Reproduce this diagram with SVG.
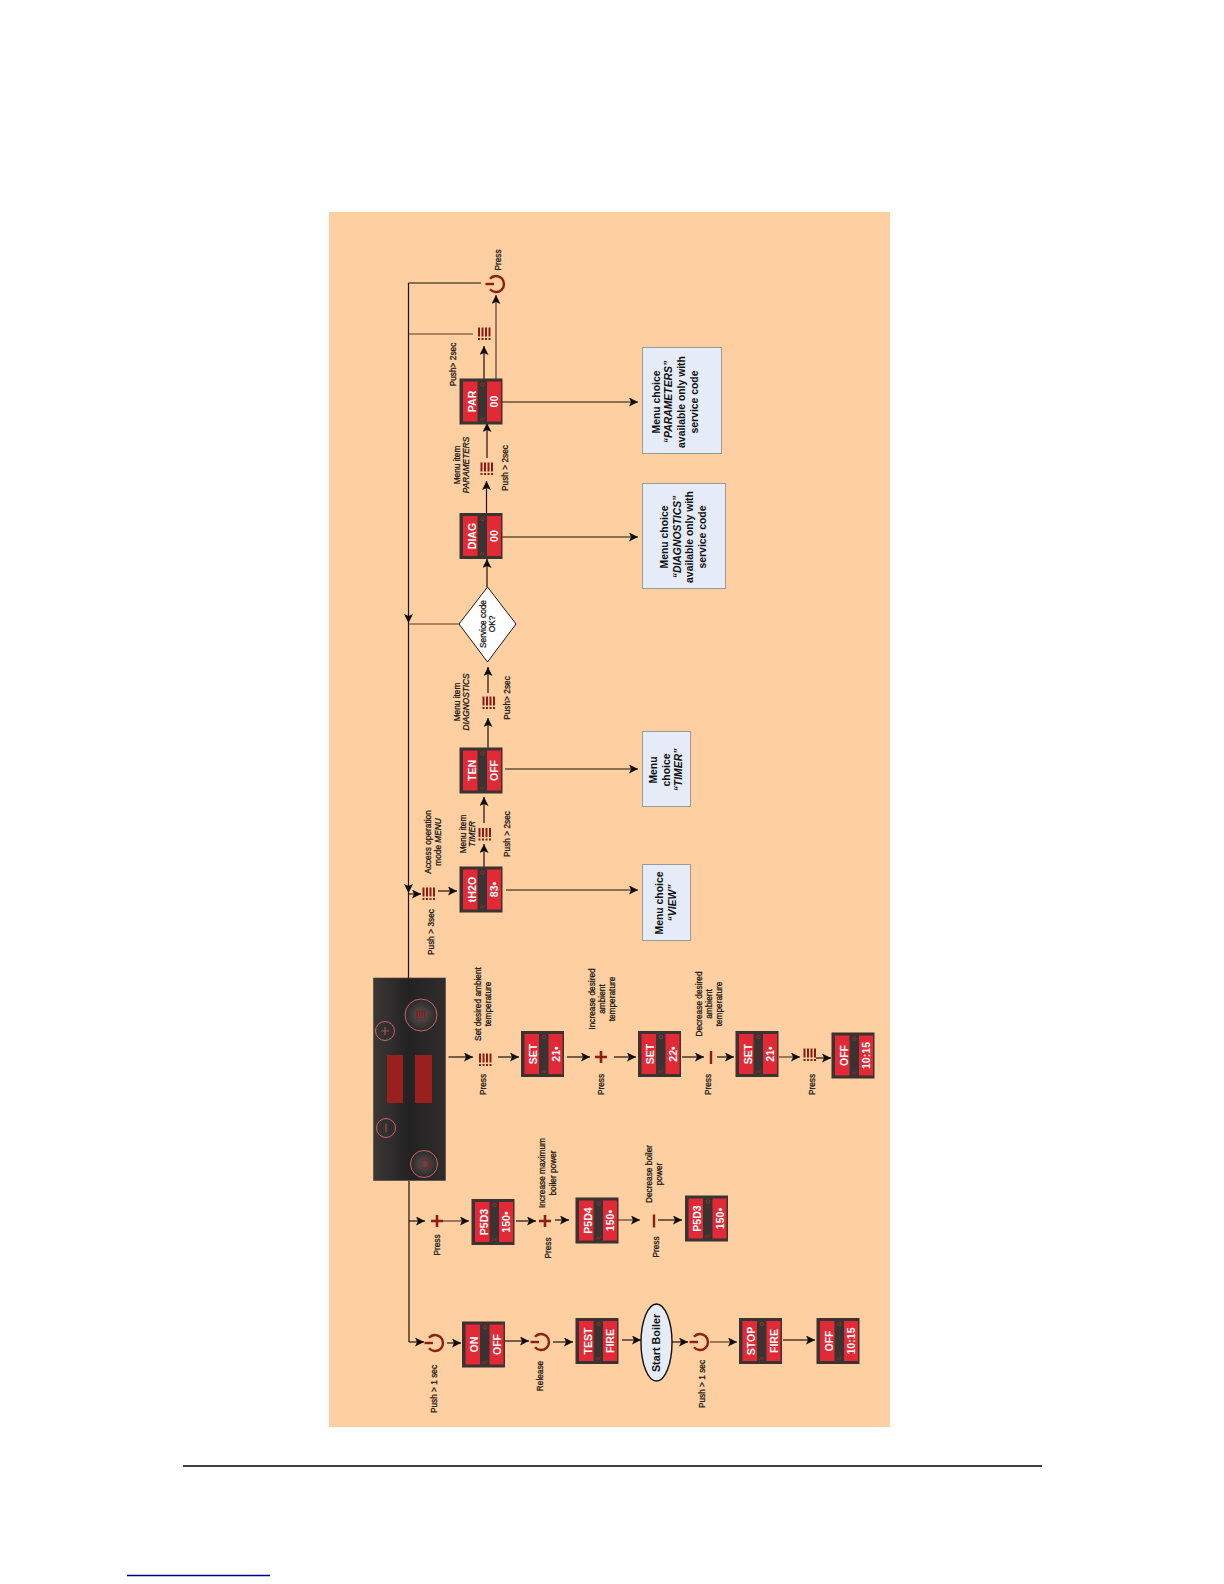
<svg xmlns="http://www.w3.org/2000/svg" width="1224" height="1584" viewBox="0 0 1224 1584">
<style>
text{font-family:"Liberation Sans",Arial,sans-serif;text-anchor:middle;dominant-baseline:central;fill:#111}
.l{font-size:8.3px;stroke:#111;stroke-width:.25px}
.b{font-size:10.4px;font-weight:700}
.d{font-size:10.6px;font-weight:700;fill:#fff}
.i{font-style:italic}
.c line,.c path{fill:none;stroke:#1a1208;stroke-width:1.2}
.c .a{marker-end:url(#ah)}
.c .br{stroke:#5c3d20}
.box{fill:#e6ecf7;stroke:#9a9a96;stroke-width:1}
.pan{fill:none;stroke:#d0606a;stroke-width:1}
</style>
<defs>
<linearGradient id="pg" x1="0" y1="0" x2="1" y2="0"><stop offset="0" stop-color="#3a3736"/><stop offset=".5" stop-color="#232223"/><stop offset="1" stop-color="#302d2c"/></linearGradient>
<radialGradient id="kn"><stop offset="0" stop-color="#5a5453"/><stop offset="1" stop-color="#2a2829"/></radialGradient>
<marker id="ah" markerUnits="userSpaceOnUse" markerWidth="10" markerHeight="10" refX="9" refY="4.5" orient="auto"><path d="M0 0L9 4.5L0 9L2 4.5Z" fill="#0d0d0d"/></marker>
<g id="disp">
<rect x="-21.5" y="-23" width="43" height="46" fill="#3b3331"/>
<rect x="-18" y="-20" width="14.5" height="40" fill="#e22a36"/>
<rect x="6" y="-20" width="14" height="40" fill="#e22a36"/>
<circle cx="1.5" cy="-17" r="1.7" fill="none" stroke="#8e3a3a" stroke-width=".8"/>
<path d="M-1 19L1 16M1.5 19L3.5 16" stroke="#8e3a3a" stroke-width=".8" fill="none"/>
</g>
<g id="push" fill="#8b1a14">
<rect x="-6.5" y="-6.5" width="2" height="9"/><rect x="-3" y="-6.5" width="2" height="9"/><rect x=".5" y="-6.5" width="2" height="9"/><rect x="4" y="-6.5" width="2" height="9"/>
<rect x="-6.5" y="4" width="2" height="2"/><rect x="-3" y="4" width="2" height="2"/><rect x=".5" y="4" width="2" height="2"/><rect x="4" y="4" width="2" height="2"/>
</g>
<g id="pow" fill="none" stroke="#8e1d12" stroke-width="2.4">
<path d="M-6 -5.3A8 8 0 1 1 -6 5.3"/><path d="M-10.5 0H-2"/>
</g>
<path id="plus" d="M-6 0H6M0 -6V6" fill="none" stroke="#8e1d12" stroke-width="2.6"/>
<path id="minus" d="M0 -6.5V6.5" fill="none" stroke="#8e1d12" stroke-width="2.4"/>
</defs>
<rect width="1224" height="1584" fill="#fff"/>
<rect id="background" x="329" y="212" width="561" height="1215" fill="#fdcfa1"/>
<path id="footer-rule" d="M183 1466H1042" stroke="#000" stroke-width="1.5"/>
<path id="footer-link" d="M127 1575.5H270" stroke="#00008b" stroke-width="1.5"/>

<g id="connectors" class="c">
<path class="a" d="M408.5 283V623"/><path class="a" d="M408.5 623V893"/><path d="M408.5 893V978"/>
<path d="M408.5 283H481"/><path class="br" d="M408.5 334H473"/><path class="br" d="M408.5 624H459"/>
<path class="a" d="M408.5 894H421"/><path class="a" d="M438 891H457"/>
<path class="a" d="M484 867V844"/><path class="a" d="M484 823V797"/>
<path class="a" d="M488 748V718"/><path class="a" d="M488 693V667"/>
<path class="a" d="M487 587V559"/><path class="a" d="M486.5 514V481"/><path class="a" d="M487 458V423"/>
<path class="a" d="M484 379V346"/><path class="a br" d="M496 379V295"/>
<path class="a" d="M502 402H638"/><path class="a" d="M502 537H638"/><path class="a" d="M505 769H638"/><path class="a" d="M506 890H638"/>
<path class="a" d="M448.5 1057H473"/><path class="a" d="M498 1057H519"/><path class="a" d="M567 1057H590"/><path class="a" d="M614 1057H636"/><path class="a" d="M682 1057H704"/><path class="a" d="M717 1057H734"/><path class="a br" d="M779 1057H800"/><path class="a" d="M816 1058H831"/>
<path d="M409 1181V1342"/><path class="a" d="M409 1221H425"/><path class="a br" d="M443 1221H469"/><path class="a" d="M516 1221H536"/><path class="a" d="M555 1220H569"/><path class="a br" d="M618 1220H640"/><path class="a" d="M658 1220H682"/>
<path class="a" d="M409 1342H424"/><path class="a" d="M447 1343H461"/><path class="a" d="M505 1341H529"/><path class="a" d="M553 1342H573"/><path class="a" d="M622 1340H641"/><path class="a" d="M672 1342H688"/><path class="a br" d="M710 1342H737"/><path class="a" d="M783 1340H815"/>
</g>

<g id="panel">
<rect x="373.5" y="978" width="72" height="202.5" fill="url(#pg)" stroke="#4a4238" stroke-width=".6"/>
<rect x="387" y="1055" width="16" height="48" fill="#9a2020"/><rect x="415" y="1055" width="17" height="48" fill="#9a2020"/>
<circle class="pan" cx="421" cy="1015" r="16" fill="url(#kn)" style="fill:url(#kn)"/><circle class="pan" cx="385" cy="1031" r="9.5"/><circle class="pan" cx="386" cy="1128" r="9.5"/><circle class="pan" cx="424" cy="1164" r="13.5" style="fill:url(#kn)"/>
<use href="#push" transform="translate(421 1015) scale(.7)"/>
<path d="M381 1031H389M385 1027V1035M386 1124V1132" stroke="#b04a4a" stroke-width="1.2" fill="none"/>
<use href="#pow" transform="translate(425 1164) scale(.55)"/>
</g>

<g id="d-par" transform="translate(481 401.5)"><use href="#disp"/><text class="d" transform="translate(-9.5 0) rotate(-90)">PAR</text><text class="d" transform="translate(13 0) rotate(-90)">00</text></g>
<g id="d-diag" transform="translate(481 536)"><use href="#disp"/><text class="d" transform="translate(-9.5 0) rotate(-90)">DIAG</text><text class="d" transform="translate(13 0) rotate(-90)">00</text></g>
<g id="d-ten" transform="translate(481 770.5)"><use href="#disp"/><text class="d" transform="translate(-9.5 0) rotate(-90)">TEN</text><text class="d" transform="translate(13 0) rotate(-90)">OFF</text></g>
<g id="d-th2o" transform="translate(481 889.5)"><use href="#disp"/><text class="d" transform="translate(-9.5 0) rotate(-90)">tH2O</text><text class="d" transform="translate(13 0) rotate(-90)">83•</text></g>
<g id="d-set1" transform="translate(542.5 1054)"><use href="#disp"/><text class="d" transform="translate(-9.5 0) rotate(-90)">SET</text><text class="d" transform="translate(13 0) rotate(-90)">21•</text></g>
<g id="d-set2" transform="translate(659.5 1054)"><use href="#disp"/><text class="d" transform="translate(-9.5 0) rotate(-90)">SET</text><text class="d" transform="translate(13 0) rotate(-90)">22•</text></g>
<g id="d-set3" transform="translate(757 1054)"><use href="#disp"/><text class="d" transform="translate(-9.5 0) rotate(-90)">SET</text><text class="d" transform="translate(13 0) rotate(-90)">21•</text></g>
<g id="d-off1" transform="translate(853 1055.5)"><use href="#disp"/><text class="d" transform="translate(-9.5 0) rotate(-90)">OFF</text><text class="d" transform="translate(13 0) rotate(-90)">10:15</text></g>
<g id="d-p5d3a" transform="translate(493 1222)"><use href="#disp"/><text class="d" transform="translate(-9.5 0) rotate(-90)">P5D3</text><text class="d" transform="translate(13 0) rotate(-90)">150•</text></g>
<g id="d-p5d4" transform="translate(597 1220.5)"><use href="#disp"/><text class="d" transform="translate(-9.5 0) rotate(-90)">P5D4</text><text class="d" transform="translate(13 0) rotate(-90)">150•</text></g>
<g id="d-p5d3b" transform="translate(706.5 1218.5)"><use href="#disp"/><text class="d" transform="translate(-9.5 0) rotate(-90)">P5D3</text><text class="d" transform="translate(13 0) rotate(-90)">150•</text></g>
<g id="d-on" transform="translate(483.5 1344.5)"><use href="#disp"/><text class="d" transform="translate(-9.5 0) rotate(-90)">ON</text><text class="d" transform="translate(13 0) rotate(-90)">OFF</text></g>
<g id="d-test" transform="translate(597 1341)"><use href="#disp"/><text class="d" transform="translate(-9.5 0) rotate(-90)">TEST</text><text class="d" transform="translate(13 0) rotate(-90)">FIRE</text></g>
<g id="d-stop" transform="translate(760.5 1341)"><use href="#disp"/><text class="d" transform="translate(-9.5 0) rotate(-90)">STOP</text><text class="d" transform="translate(13 0) rotate(-90)">FIRE</text></g>
<g id="d-off2" transform="translate(838 1341)"><use href="#disp"/><text class="d" transform="translate(-9.5 0) rotate(-90)">OFF</text><text class="d" transform="translate(13 0) rotate(-90)">10:15</text></g>

<g id="decision"><path d="M487.5 587L516 624L487.5 662L459 624Z" fill="#fff" stroke="#1a1a1a" stroke-width="1"/>
<text class="l" transform="translate(483 624) rotate(-90)">Service code</text><text class="l" transform="translate(492 624) rotate(-90)">OK?</text></g>
<g id="start-boiler"><ellipse cx="656.5" cy="1342.5" rx="15.5" ry="38.5" fill="#e6ecf7" stroke="#111" stroke-width="1.4"/>
<text class="b" style="font-size:10.8px" transform="translate(656 1343) rotate(-90)">Start Boiler</text></g>

<g id="choice-parameters"><rect class="box" x="642.5" y="347.5" width="79" height="106"/>
<text class="b" transform="translate(656 402) rotate(-90)">Menu choice</text><text class="b i" transform="translate(668.5 402) rotate(-90)">“PARAMETERS”</text><text class="b" transform="translate(681 402) rotate(-90)">available only with</text><text class="b" transform="translate(694 402) rotate(-90)">service code</text></g>
<g id="choice-diagnostics"><rect class="box" x="642.5" y="483.5" width="83" height="105"/>
<text class="b" transform="translate(664 537) rotate(-90)">Menu choice</text><text class="b i" transform="translate(677 537) rotate(-90)">“DIAGNOSTICS”</text><text class="b" transform="translate(689 537) rotate(-90)">available only with</text><text class="b" transform="translate(702 537) rotate(-90)">service code</text></g>
<g id="choice-timer"><rect class="box" x="642.5" y="731.5" width="48" height="75"/>
<text class="b" transform="translate(653 770) rotate(-90)">Menu</text><text class="b" transform="translate(666 770) rotate(-90)">choice</text><text class="b i" transform="translate(678 770) rotate(-90)">“TIMER”</text></g>
<g id="choice-view"><rect class="box" x="642.5" y="864.5" width="48" height="76"/>
<text class="b" transform="translate(659 903) rotate(-90)">Menu choice</text><text class="b i" transform="translate(672 903) rotate(-90)">“VIEW”</text></g>

<g id="icons">
<use href="#pow" transform="translate(496 284)"/>
<use href="#push" transform="translate(484.5 334)"/>
<use href="#push" transform="translate(487 469)"/>
<use href="#push" transform="translate(489 703)"/>
<use href="#push" transform="translate(485 834.5)"/>
<use href="#push" transform="translate(429 894)"/>
<use href="#push" transform="translate(485.5 1060)"/>
<use href="#push" transform="translate(810 1055)"/>
<use href="#plus" transform="translate(601 1057)"/>
<use href="#minus" transform="translate(711 1057.5)"/>
<use href="#plus" transform="translate(437 1221)"/>
<use href="#plus" transform="translate(545 1221)"/>
<use href="#minus" transform="translate(654 1221)"/>
<use href="#pow" transform="translate(435 1343)"/>
<use href="#pow" transform="translate(541 1342)"/>
<use href="#pow" transform="translate(700 1342)"/>
</g>

<g id="labels">
<text class="l" transform="translate(498 260) rotate(-90)">Press</text>
<text class="l" transform="translate(453 364.5) rotate(-90)">Push&gt; 2sec</text>
<text class="l" transform="translate(457 465) rotate(-90)">Menu item</text>
<text class="l i" transform="translate(466 465) rotate(-90)">PARAMETERS</text>
<text class="l" transform="translate(505 468) rotate(-90)">Push &gt; 2sec</text>
<text class="l" transform="translate(457 702) rotate(-90)">Menu item</text>
<text class="l i" transform="translate(466 702) rotate(-90)">DIAGNOSTICS</text>
<text class="l" transform="translate(507 698) rotate(-90)">Push&gt; 2sec</text>
<text class="l" transform="translate(428 842) rotate(-90)">Access operation</text>
<text class="l" transform="translate(438 842) rotate(-90)">mode <tspan class="i">MENU</tspan></text>
<text class="l" transform="translate(463 834) rotate(-90)">Menu item</text>
<text class="l i" transform="translate(472 834) rotate(-90)">TIMER</text>
<text class="l" transform="translate(507 834) rotate(-90)">Push &gt; 2sec</text>
<text class="l" transform="translate(431 932) rotate(-90)">Push &gt; 3sec</text>
<text class="l" transform="translate(478 1004) rotate(-90)">Set desired ambient</text>
<text class="l" transform="translate(488 1004) rotate(-90)">temperature</text>
<text class="l" transform="translate(483 1084.5) rotate(-90)">Press</text>
<text class="l" transform="translate(592 999) rotate(-90)">Increase desired</text>
<text class="l" transform="translate(602 999) rotate(-90)">ambient</text>
<text class="l" transform="translate(612 999) rotate(-90)">temperature</text>
<text class="l" transform="translate(601 1084.5) rotate(-90)">Press</text>
<text class="l" transform="translate(699 1004) rotate(-90)">Decrease desired</text>
<text class="l" transform="translate(709 1004) rotate(-90)">ambient</text>
<text class="l" transform="translate(719 1004) rotate(-90)">temperature</text>
<text class="l" transform="translate(708 1084.5) rotate(-90)">Press</text>
<text class="l" transform="translate(812 1084.5) rotate(-90)">Press</text>
<text class="l" transform="translate(542 1173) rotate(-90)">Increase maximum</text>
<text class="l" transform="translate(552.5 1173) rotate(-90)">boiler power</text>
<text class="l" transform="translate(649 1174) rotate(-90)">Decrease boiler</text>
<text class="l" transform="translate(659 1174) rotate(-90)">power</text>
<text class="l" transform="translate(437 1245) rotate(-90)">Press</text>
<text class="l" transform="translate(548 1248) rotate(-90)">Press</text>
<text class="l" transform="translate(656 1247) rotate(-90)">Press</text>
<text class="l" transform="translate(434 1389) rotate(-90)">Push &gt; 1 sec</text>
<text class="l" transform="translate(540 1376) rotate(-90)">Release</text>
<text class="l" transform="translate(702 1384) rotate(-90)">Push &gt; 1 sec</text>
</g>
</svg>
